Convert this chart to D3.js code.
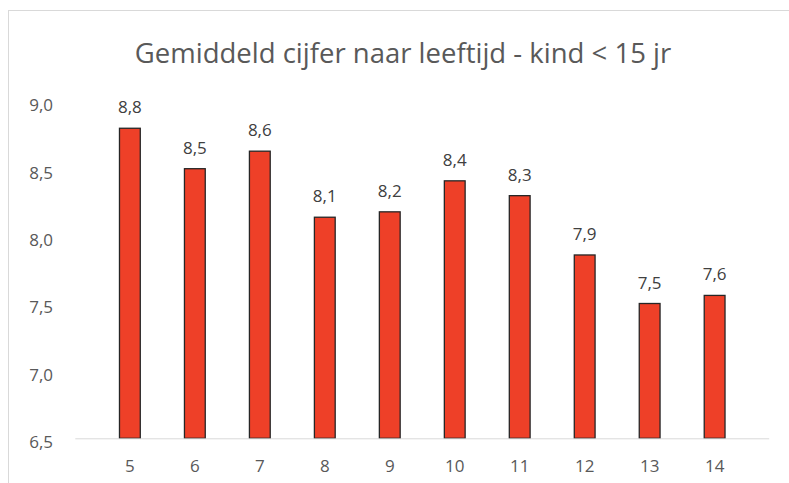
<!DOCTYPE html>
<html>
<head>
<meta charset="utf-8">
<script src="https://cdn.jsdelivr.net/npm/d3@7"></script>
<style>
  body { margin: 0; background: #fff; }
  text { font-family: "Open Sans", sans-serif; }
</style>
</head>
<body>
<svg id="chart" width="789" height="483"></svg>
<script>
// age of the child and average grade
var ages = ["5", "6", "7", "8", "9", "10", "11", "12", "13", "14"];
var grades = [8.80, 8.50, 8.63, 8.14, 8.18, 8.41, 8.30, 7.86, 7.50, 7.56];
var yTicks = [6.5, 7.0, 7.5, 8.0, 8.5, 9.0];
var title = "Gemiddeld cijfer naar leeftijd - kind < 15 jr";

var svg = d3.select("#chart");
var fmt = function(v) { return v.toFixed(1).replace(".", ","); };

// chart frame (only left and top visible)
svg.append("rect")
  .attr("x", 8.5).attr("y", 10.5)
  .attr("width", 900).attr("height", 600)
  .attr("fill", "none")
  .attr("stroke", "#d9d9d9");

var x = d3.scaleBand().domain(ages).range([75.3, 769.2]).padding(0.68);
var y = d3.scaleLinear().domain([6.5, 9.0]).range([438.3, 101.3]);

svg.append("text")
  .attr("x", 403).attr("y", 63)
  .attr("text-anchor", "middle")
  .attr("fill", "#595959")
  .style("font-size", "27.5px")
  .text(title);

// y axis labels
var yAxis = d3.axisLeft(y).tickValues(yTicks).tickFormat(fmt).tickSize(0).tickPadding(0);
svg.append("g")
  .attr("transform", "translate(53,4)")
  .call(yAxis)
  .call(g => g.select(".domain").remove())
  .selectAll("text")
  .attr("fill", "#595959")
  .style("font-size", "17px")
  .style("font-family", "'Open Sans', sans-serif");

// bars
svg.selectAll("rect.bar")
  .data(grades)
  .enter().append("rect")
  .attr("class", "bar")
  .attr("x", (d, i) => x(ages[i]))
  .attr("y", d => y(d))
  .attr("width", x.bandwidth())
  .attr("height", d => y(6.5) - y(d))
  .attr("fill", "#ee4028")
  .attr("stroke", "#262626")
  .attr("stroke-width", 1.3);

// baseline
var xAxis = d3.axisBottom(x).tickSize(0).tickPadding(22);
svg.append("g")
  .attr("transform", "translate(0," + y(6.5) + ")")
  .call(xAxis)
  .call(g => g.select(".domain").attr("stroke", "#d9d9d9").attr("d", "M75.3,0.5H769.2"))
  .selectAll("text")
  .attr("fill", "#595959")
  .style("font-size", "17px")
  .style("font-family", "'Open Sans', sans-serif");

// data labels
svg.selectAll("text.lbl")
  .data(grades)
  .enter().append("text")
  .attr("class", "lbl")
  .attr("x", (d, i) => x(ages[i]) + x.bandwidth() / 2)
  .attr("y", d => y(d) - 15)
  .attr("text-anchor", "middle")
  .attr("fill", "#404040")
  .style("font-size", "17px")
  .text(fmt);
</script>
</body>
</html>
